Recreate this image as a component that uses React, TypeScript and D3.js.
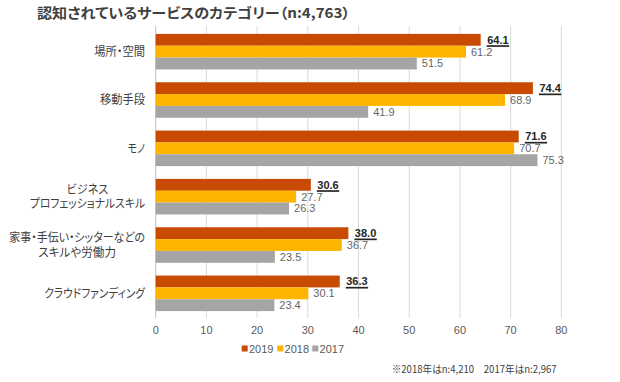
import React from "react";
import * as d3 from "d3";

const categories: string[][] = [
  ["場所・空間"],
  ["移動手段"],
  ["モノ"],
  ["ビジネス", "プロフェッショナルスキル"],
  ["家事・手伝い・シッターなどの", "スキルや労働力"],
  ["クラウドファンディング"],
];
const years = ["2019", "2018", "2017"];
const values2019 = [64.1, 74.4, 71.6, 30.6, 38.0, 36.3];
const values2018 = [61.2, 68.9, 70.7, 27.7, 36.7, 30.1];
const values2017 = [51.5, 41.9, 75.3, 26.3, 23.5, 23.4];
const xTicks = [0, 10, 20, 30, 40, 50, 60, 70, 80];
const title = "認知されているサービスのカテゴリー（n:4,763）";
const footnote = "※2018年はn:4,210　2017年はn:2,967";

const colors: Record<string, string> = { "2019": "#C94A03", "2018": "#FFB400", "2017": "#A5A5A5" };
const seriesValues: Record<string, number[]> = { "2019": values2019, "2018": values2018, "2017": values2017 };

// measured label widths to emulate original proportional font
const labelWidths: number[][] = [[50.7], [45], [17.3], [41.7, 115], [135.7, 77.7], [100.7]];

const FONT = "'Liberation Sans', 'Noto Sans CJK JP', sans-serif";
const JP = "'Noto Sans CJK JP', 'Liberation Sans', sans-serif";

export default function App() {
  const W = 620, H = 382;
  const x = d3.scaleLinear().domain([0, 80]).range([155.7, 561.3]);
  const keys = categories.map((c) => c.join(""));
  const y = d3.scaleBand<string>().domain(keys).range([27.5, 317.5]).paddingInner(0.265).paddingOuter(0.1325);
  const inner = d3.scaleBand<string>().domain(years).range([0, y.bandwidth()]).padding(0);
  const gridTop = 26, gridBottom = 318;

  return (
    <svg width={W} height={H} style={{ position: "absolute", left: 0, top: 0, background: "#fff" }} fontFamily={FONT}>
      <rect x={0} y={0} width={W} height={H} fill="#fff" />
      <text x={37} y={18} fontSize={14} fontWeight="bold" fill="#404040" fontFamily={JP}
        style={{ fontFeatureSettings: "'palt'" }} textLength={313} lengthAdjust="spacingAndGlyphs">{title}</text>

      {xTicks.map((t) => (
        <g key={t}>
          <line x1={x(t)} x2={x(t)} y1={gridTop} y2={gridBottom} stroke={t === 0 ? "#BFBFBF" : "#D9D9D9"} strokeWidth={1} />
          <text x={x(t)} y={333.5} fontSize={11} fill="#595959" textAnchor="middle">{t}</text>
        </g>
      ))}

      {categories.map((cat, i) => {
        const key = keys[i];
        const y0 = y(key)!;
        const cy = y0 + y.bandwidth() / 2;
        const lineH = 14.5;
        const maxW = Math.max(...labelWidths[i]);
        const cx = 145 - maxW / 2;
        return (
          <g key={key}>
            {cat.map((line, j) => {
              const ly = cy + (j - (cat.length - 1) / 2) * lineH + 4.3;
              return (
                <text key={j} x={cx} y={ly} fontSize={12} fill="#404040" textAnchor="middle" fontFamily={JP}
                  style={{ fontFeatureSettings: "'palt'" }} textLength={labelWidths[i][j]} lengthAdjust="spacingAndGlyphs">{line}</text>
              );
            })}
            {years.map((yr) => {
              const v = seriesValues[yr][i];
              const by = y0 + inner(yr)!;
              const bh = inner.bandwidth();
              const isMain = yr === "2019";
              const lx = x(v) + (isMain ? 6.5 : 5);
              const base = by + bh / 2 + 3.9;
              const txt = v.toFixed(1);
              const tw = 11 * 0.556 * (txt.length - 1) + 11 * 0.278;
              return (
                <g key={yr}>
                  <rect x={x(0)} y={by} width={x(v) - x(0)} height={bh} fill={colors[yr]} />
                  <text x={lx} y={base} fontSize={11} fontWeight={isMain ? "bold" : "normal"} fill={isMain ? "#262626" : "#666666"}>{txt}</text>
                  {isMain && <line x1={lx - 0.5} x2={lx + tw + 0.5} y1={base + 2.3} y2={base + 2.3} stroke="#262626" strokeWidth={1.7} />}
                </g>
              );
            })}
          </g>
        );
      })}

      {years.map((yr, k) => {
        const lx = [241.7, 277.3, 312.3][k];
        return (
          <g key={yr}>
            <rect x={lx} y={345.5} width={6} height={6} fill={colors[yr]} />
            <text x={lx + 7.3} y={352.5} fontSize={11} fill="#595959">{yr}</text>
          </g>
        );
      })}

      <text x={391.7} y={372.5} fontSize={10.5} fill="#404040" fontFamily={JP}
        style={{ fontFeatureSettings: "'palt'" }} textLength={165} lengthAdjust="spacingAndGlyphs">{footnote}</text>
    </svg>
  );
}
